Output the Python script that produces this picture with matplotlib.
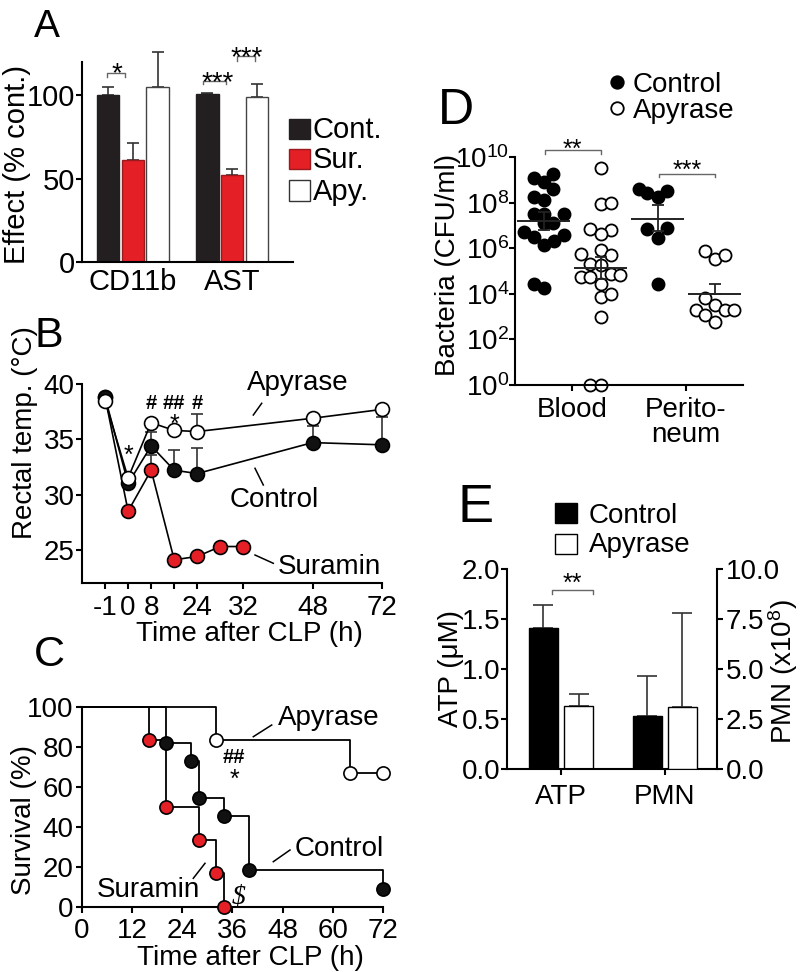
import numpy as np
import matplotlib
matplotlib.use("Agg")
import matplotlib.pyplot as plt
from matplotlib.patches import Rectangle
from matplotlib.lines import Line2D

plt.rcParams['font.family'] = ['Liberation Sans', 'DejaVu Sans']
plt.rcParams['mathtext.fontset'] = 'custom'
plt.rcParams['mathtext.rm'] = 'Liberation Sans'
plt.rcParams['axes.linewidth'] = 1.5
plt.rcParams['xtick.major.width'] = 1.5
plt.rcParams['ytick.major.width'] = 1.5
plt.rcParams['xtick.major.size'] = 4.3
plt.rcParams['ytick.major.size'] = 4.3

# =========================
# Data
# =========================
# A: effect (% of control)
a_groups = ["CD11b", "AST"]
a_cont = [100, 101]
a_cont_err = [5, 0.5]
a_sur = [61, 52]
a_sur_err = [10.5, 3.6]
a_apy = [105, 99]
a_apy_err = [21, 8]

# B: rectal temperature (deg C) over time after CLP (h)
b_times = [-1, 0, 8, 16, 24, 48, 72]
b_ctrl = [38.8, 31.0, 34.4, 32.2, 31.9, 34.7, 34.5]
b_ctrl_err = [0, 0, 1.3, 1.8, 2.3, 1.5, 2.5]
b_apy = [38.5, 31.5, 36.5, 35.8, 35.7, 36.9, 37.7]
b_apy_err = [0, 0, 0, 0, 1.6, 0, 0]
b_sur_times = [-1, 0, 8, 16, 24, 28, 32]
b_sur = [38.8, 28.5, 32.2, 24.1, 24.4, 25.3, 25.3]
b_sur_err = [0, 0, 1.4, 0, 0, 0, 0]
b_tick_times = [-1, 0, 8, 16, 24, 32, 48, 72]
b_tick_labels = ["-1", "0", "8", "", "24", "32", "48", "72"]

# C: survival (%) Kaplan-Meier steps
c_apy_t = [0, 32, 64, 72]
c_apy_s = [100, 83.3, 66.7, 66.7]
c_ctrl_t = [0, 20, 26, 28, 34, 40, 72]
c_ctrl_s = [100, 81.8, 72.7, 54.5, 45.5, 18.2, 9.1]
c_sur_t = [0, 16, 20, 28, 32, 34]
c_sur_s = [100, 83.3, 50, 33.3, 16.7, 0]

# D: bacteria (log10 CFU/ml) with horizontal jitter
d_groups = ["Blood", "Perito-\nneum"]
d_blood_ctrl = [9.07, 9.26, 8.92, 8.58, 8.23, 8.11, 7.52, 7.52, 7.52, 7.11, 7.11,
                6.71, 6.49, 6.12, 6.31, 6.56, 4.45, 4.25]
d_blood_ctrl_dx = [-0.08, 0.08, 0.0, 0.08, -0.08, 0.0, -0.08, 0.18, 0.0, 0.0, 0.08,
                   -0.17, -0.08, 0.0, 0.09, 0.18, -0.08, 0.0]
d_blood_apy = [9.51, 7.94, 8.0, 6.86, 6.81, 6.61, 5.75, 5.9, 5.72, 5.31, 5.28,
               4.75, 4.72, 4.85, 4.84, 4.42, 3.86, 4.0, 2.98, 0, 0]
d_blood_apy_dx = [0.0, 0.0, 0.09, -0.09, 0.09, 0.0, -0.175, 0.0, 0.09, -0.09, 0.0,
                  -0.175, -0.09, 0.09, 0.175, 0.0, 0.0, 0.09, 0.0, -0.09, 0.0]
d_perit_ctrl = [8.58, 8.40, 8.26, 8.53, 6.86, 6.9, 6.46, 4.42]
d_perit_ctrl_dx = [-0.16, -0.09, 0.0, 0.08, -0.09, 0.08, 0.0, 0.0]
d_perit_apy = [5.87, 5.53, 5.72, 3.83, 3.5, 3.3, 3.05, 3.27, 3.31, 2.77]
d_perit_apy_dx = [-0.08, 0.0, 0.09, -0.08, 0.0, -0.16, -0.08, 0.09, 0.17, 0.0]
d_mean_log = [7.2, 5.15, 7.3, 4.0]
d_hi_log = [7.58, 5.62, 7.88, 4.45]
d_lo_log = [6.8, 4.66, 6.77, 4.0]

# E: ATP (uM, left axis) and PMN (x10^8, right axis)
e_groups = ["ATP", "PMN"]
e_ctrl = [1.41, 2.67]
e_ctrl_err = [0.23, 2.0]
e_apy = [0.63, 3.1]
e_apy_err = [0.12, 4.73]

# =========================
# Layout helpers
# =========================
W, H = 800, 972
RED = "#e41f26"
DARK = "#231f20"
FS = 20

fig = plt.figure(figsize=(W / 100, H / 100), dpi=100)


def fx(x):
    return x / W


def fy(y):
    return 1 - y / H


def add_ax(left, top, right, bottom):
    return fig.add_axes([fx(left), fy(bottom), (right - left) / W, (bottom - top) / H])


def clean(ax, right=False):
    ax.spines["top"].set_visible(False)
    if not right:
        ax.spines["right"].set_visible(False)


def star(ax, x, y, s, fs, frac=0.57, **kw):
    ax.annotate(s, (x, y), xytext=(0, -frac * fs), textcoords="offset points",
                ha="center", va="baseline", fontsize=fs, annotation_clip=False, **kw)


def bracket(ax, x1, x2, y, d, color="#666666"):
    ax.plot([x1, x1, x2, x2], [y - d, y, y, y - d], color=color, lw=1.0, clip_on=False)


def ftext(x, y, s, fs=FS, **kw):
    fig.text(fx(x), fy(y), s, fontsize=fs, va="baseline", ha="left", **kw)


def fline(x1, y1, x2, y2):
    fig.add_artist(Line2D([fx(x1), fx(x2)], [fy(y1), fy(y2)], color="black", lw=1.1))


def up_err(ax, x, y, err, capsize, lw=1.2, z=1):
    x = np.asarray(x, float)
    y = np.asarray(y, float)
    err = np.asarray(err, float)
    m = err > 0
    if m.any():
        ax.errorbar(x[m], y[m], yerr=[np.zeros(m.sum()), err[m]], fmt="none",
                    ecolor="#333333", elinewidth=lw, capsize=capsize, capthick=lw,
                    zorder=z, clip_on=False)


# =========================
# Panel A
# =========================
axA = add_ax(82, 62, 293, 262)
clean(axA)
xa = np.arange(len(a_groups))
a_series = [(a_cont, a_cont_err, DARK, DARK), (a_sur, a_sur_err, RED, "#9a1a1e"),
            (a_apy, a_apy_err, "white", "#444444")]
for k, (vals, errs, col, ec) in enumerate(a_series):
    xs = xa + (k - 1) * 0.25
    axA.bar(xs, vals, width=0.225, color=col, edgecolor=ec, linewidth=1.0, zorder=2)
    up_err(axA, xs, vals, errs, capsize=4.5)
axA.set_xlim(-0.51, 1.61)
axA.set_ylim(0, 120)
axA.set_yticks([0, 50, 100])
axA.set_xticks(xa)
axA.set_xticklabels(a_groups)
axA.tick_params(axis="x", length=0, pad=4, labelsize=21)
axA.tick_params(axis="y", pad=0.5, labelsize=21)
axA.set_ylabel("Effect (% cont.)", fontsize=21)
axA.yaxis.set_label_coords(-0.242, 0.485)

bracket(axA, -0.26, -0.08, 113.3, 2.6)
star(axA, -0.164, 117.7, "*", 20)
bracket(axA, 0.71, 0.94, 108.6, 2.0)
star(axA, 0.857, 112.5, "***", 20)
bracket(axA, 1.045, 1.23, 123.3, 2.6)
star(axA, 1.149, 127.5, "***", 20)

for (lbl, col, ec), (top, bot, base) in zip(
        [("Cont.", DARK, DARK), ("Sur.", RED, "#9a1a1e"), ("Apy.", "white", "#333333")],
        [(119, 139, 138), (149, 169, 168), (180, 201, 200)]):
    fig.add_artist(Rectangle((fx(289), fy(bot)), 21 / W, (bot - top) / H,
                             facecolor=col, edgecolor=ec, lw=1.0, transform=fig.transFigure))
    ftext(313, base, lbl, fs=21)

# =========================
# Panel B
# =========================
axB = add_ax(82, 384, 381.7, 583)
clean(axB)
b_knots_t = [-2, -1, 0, 8, 16, 24, 32, 48, 72]
b_knots_p = [-1, 0, 1, 2, 3, 4, 6, 9, 12]


def b_fwd(t):
    return np.interp(t, b_knots_t, b_knots_p)


def b_inv(p):
    return np.interp(p, b_knots_p, b_knots_t)


axB.set_xscale("function", functions=(b_fwd, b_inv))
axB.set_xlim(-2, 72)
axB.set_ylim(22, 40)
up_err(axB, b_sur_times, b_sur, b_sur_err, capsize=4)
up_err(axB, b_times, b_ctrl, b_ctrl_err, capsize=4)
up_err(axB, b_times, b_apy, b_apy_err, capsize=4)
axB.plot(b_sur_times, b_sur, "-o", color="black", lw=1.2, ms=10, mfc=RED, mec="black",
         mew=1.2, zorder=3, clip_on=False)
axB.plot(b_times, b_ctrl, "-o", color="black", lw=1.2, ms=10, mfc="#111111", mec="black",
         mew=1.2, zorder=4, clip_on=False)
axB.plot(b_times, b_apy, "-o", color="black", lw=1.2, ms=10, mfc="white", mec="black",
         mew=1.2, zorder=5, clip_on=False)
axB.set_xticks(b_tick_times)
axB.set_xticklabels(b_tick_labels)
axB.set_yticks([25, 30, 35, 40])
axB.tick_params(axis="x", pad=4.5, labelsize=FS)
axB.tick_params(axis="y", pad=1, labelsize=FS)
axB.set_xlabel("Time after CLP (h)", fontsize=FS)
axB.xaxis.set_label_coords(0.56, -0.193)
axB.set_ylabel("Rectal temp. (°C)", fontsize=FS)
axB.yaxis.set_label_coords(-0.147, 0.754)

star(axB, 0, 34.15, "*", 18)
for t, s in [(8, "#"), (16, "##"), (24, "#")]:
    star(axB, t, 38.4, s, 14.5, frac=0.36, fontweight="bold")
star(axB, 16, 37.0, "*", 18)

ftext(246.7, 390, "Apyrase")
fline(253.3, 415, 261.7, 403.3)
ftext(230, 506.7, "Control")
fline(255, 468.3, 263.3, 485)
ftext(278, 574, "Suramin")
fline(255, 555, 273.3, 563.3)

# =========================
# Panel C
# =========================
axC = add_ax(82, 706.7, 383, 906.7)
clean(axC)
axC.set_xlim(0, 72)
axC.set_ylim(0, 100)
axC.step(c_ctrl_t, c_ctrl_s, where="post", color="black", lw=1.3, clip_on=False, zorder=2)
axC.step(c_sur_t, c_sur_s, where="post", color="black", lw=1.3, clip_on=False, zorder=2)
axC.step(c_apy_t, c_apy_s, where="post", color="black", lw=1.3, clip_on=False, zorder=2)
axC.plot(c_ctrl_t[1:], c_ctrl_s[1:], "o", ms=9.5, mfc="#111111", mec="black", mew=1.2,
         clip_on=False, zorder=4)
axC.plot(c_sur_t[1:], c_sur_s[1:], "o", ms=9.5, mfc=RED, mec="black", mew=1.2,
         clip_on=False, zorder=5)
axC.plot(c_apy_t[1:], c_apy_s[1:], "o", ms=9.5, mfc="white", mec="black", mew=1.2,
         clip_on=False, zorder=5)
axC.set_xticks(np.arange(0, 73, 12))
axC.set_yticks(np.arange(0, 101, 20))
axC.tick_params(axis="x", pad=4, labelsize=FS)
axC.tick_params(axis="y", pad=2, labelsize=FS)
axC.set_xlabel("Time after CLP (h)", fontsize=FS)
axC.xaxis.set_label_coords(0.558, -0.19)
axC.set_ylabel("Survival (%)", fontsize=FS)
axC.yaxis.set_label_coords(-0.148, 0.433)

star(axC, 36.4, 75.3, "##", 14.5, frac=0.36, fontweight="bold")
star(axC, 36.4, 67.0, "*", 18)
star(axC, 37.4, 6.3, "$", 20, frac=0.35, fontstyle="italic", family="Liberation Serif")

ftext(278, 725, "Apyrase")
fline(253.3, 736.7, 271.7, 725)
ftext(295, 856, "Control")
fline(273.3, 861.7, 290, 850)
ftext(96.7, 896.7, "Suramin")
fline(193.3, 878.3, 205, 863.3)

# =========================
# Panel D
# =========================
axD = add_ax(515, 157, 743, 385)
clean(axD)
axD.set_yscale("log")
axD.set_ylim(1, 1e10)
axD.set_xlim(0.5, 2.5)
d_sets = [(1 - 0.25, d_blood_ctrl, d_blood_ctrl_dx, "black"),
          (1 + 0.25, d_blood_apy, d_blood_apy_dx, "white"),
          (2 - 0.25, d_perit_ctrl, d_perit_ctrl_dx, "black"),
          (2 + 0.25, d_perit_apy, d_perit_apy_dx, "white")]
for i, (xc, vals, dx, fc) in enumerate(d_sets):
    axD.plot(xc + np.array(dx), 10.0 ** np.array(vals), "o", ms=8.7, mfc=fc, mec="black",
             mew=1.3, clip_on=False, zorder=2)
    m, hi, lo = 10.0 ** d_mean_log[i], 10.0 ** d_hi_log[i], 10.0 ** d_lo_log[i]
    axD.hlines(m, xc - 0.23, xc + 0.23, color="#222222", lw=1.4, zorder=4)
    axD.errorbar([xc], [m], yerr=[[m - lo], [hi - m]], fmt="none", ecolor="#222222",
                 elinewidth=1.3, capsize=4, capthick=1.3, zorder=4)
axD.set_yticks([10.0 ** k for k in range(0, 11, 2)])
axD.set_yticklabels([r"$\mathregular{10^{%d}}$" % k for k in range(0, 11, 2)])
axD.set_yticks([], minor=True)
axD.set_xticks([1, 2])
axD.set_xticklabels(d_groups)
for lbl in axD.get_xticklabels():
    lbl.set_linespacing(0.95)
axD.tick_params(axis="x", pad=4, labelsize=FS)
axD.tick_params(axis="y", pad=0, labelsize=FS)
axD.set_ylabel("Bacteria (CFU/ml)", fontsize=FS)
axD.yaxis.set_label_coords(-0.237, 0.526)

bracket(axD, 0.76, 1.25, 10 ** 10.3, 10 ** 10.3 - 10 ** 10.15)
star(axD, 1.0, 10 ** 10.65, "**", 18)
bracket(axD, 1.766, 2.25, 10 ** 9.26, 10 ** 9.26 - 10 ** 9.12)
star(axD, 2.01, 10 ** 9.69, "***", 18)

fig.add_artist(Line2D([fx(616.7)], [fy(81.7)], marker="o", ms=9, mfc="black", mec="black",
                      mew=1.3, lw=0))
fig.add_artist(Line2D([fx(616.7)], [fy(108.3)], marker="o", ms=9, mfc="white", mec="black",
                      mew=1.3, lw=0))
ftext(633, 91.7, "Control")
ftext(633, 118.5, "Apyrase")

# =========================
# Panel E
# =========================
axE = add_ax(507, 569.3, 716.7, 769.3)
axE2 = axE.twinx()
axE.spines["top"].set_visible(False)
axE.spines["right"].set_visible(False)
for side in ["top", "left", "bottom"]:
    axE2.spines[side].set_visible(False)
axE2.spines["right"].set_linewidth(1.5)
bw, off = 0.28, 0.17
axE.bar([0 - off], [e_ctrl[0]], width=bw, color="black", edgecolor="black", lw=1, zorder=2)
axE.bar([0 + off], [e_apy[0]], width=bw, color="white", edgecolor="black", lw=1, zorder=2)
up_err(axE, [0 - off], [e_ctrl[0]], [e_ctrl_err[0]], capsize=7)
up_err(axE, [0 + off], [e_apy[0]], [e_apy_err[0]], capsize=7)
axE2.bar([1 - off], [e_ctrl[1]], width=bw, color="black", edgecolor="black", lw=1, zorder=2)
axE2.bar([1 + off], [e_apy[1]], width=bw, color="white", edgecolor="black", lw=1, zorder=2)
up_err(axE2, [1 - off], [e_ctrl[1]], [e_ctrl_err[1]], capsize=7)
up_err(axE2, [1 + off], [e_apy[1]], [e_apy_err[1]], capsize=7)
axE.set_xlim(-0.52, 1.5)
axE.set_ylim(0, 2)
axE2.set_ylim(0, 10)
axE.set_yticks(np.arange(0, 2.01, 0.5))
axE.set_yticklabels(["%.1f" % v for v in np.arange(0, 2.01, 0.5)])
axE2.set_yticks(np.arange(0, 10.01, 2.5))
axE2.set_yticklabels(["%.1f" % v for v in np.arange(0, 10.01, 2.5)])
axE.set_xticks([0, 1])
axE.set_xticklabels(e_groups)
axE.tick_params(axis="x", pad=6, labelsize=FS)
axE.tick_params(axis="y", pad=0.5, labelsize=FS)
axE2.tick_params(axis="y", pad=2, labelsize=FS)
axE.set_ylabel("ATP (μM)", fontsize=FS)
axE.yaxis.set_label_coords(-0.205, 0.506)
axE2.set_ylabel(r"PMN (x10$\mathregular{^8}$)", fontsize=FS)
axE2.yaxis.set_label_coords(1.238, 0.487)

bracket(axE, -0.09, 0.31, 1.793, 0.04)
star(axE, 0.11, 1.93, "**", 18)

for (lbl, col), (top, bot, base) in zip([("Control", "black"), ("Apyrase", "white")],
                                       [(502.7, 523.3, 522.7), (533.5, 553.5, 552)]):
    fig.add_artist(Rectangle((fx(555), fy(bot)), 22 / W, (bot - top) / H,
                             facecolor=col, edgecolor="black", lw=1.0, transform=fig.transFigure))
    ftext(589, base, lbl)

# =========================
# Panel letters
# =========================
ftext(34, 37, "A", fs=28)
ftext(35, 347, "B", fs=31)
ftext(34, 666, "C", fs=31)
ftext(438, 124, "D", fs=36)
ftext(458, 522, "E", fs=39)

fig.savefig("out.png", dpi=100)
